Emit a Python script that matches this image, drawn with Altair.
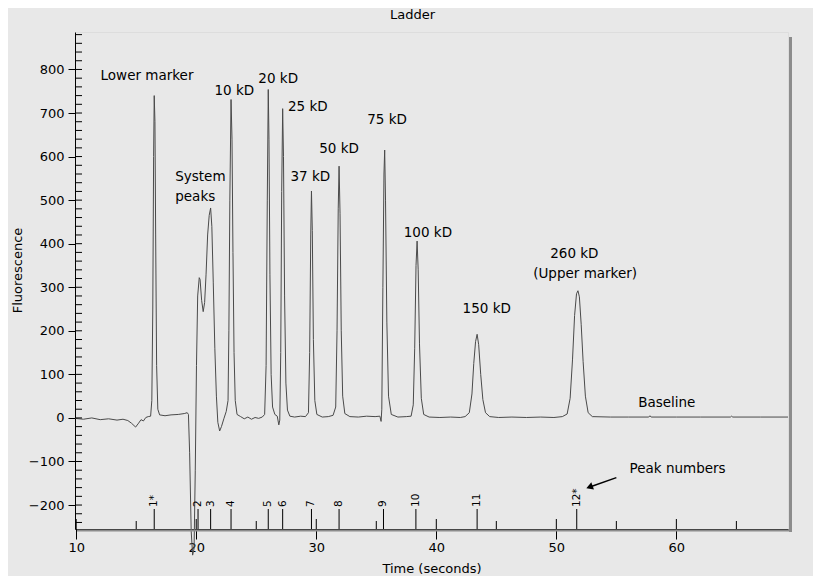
import altair as alt
import pandas as pd

# ---- Electropherogram trace (time in s, fluorescence) ----
trace_time = [
    9.9, 10.6, 11.3, 12.0, 12.7, 13.4, 13.9, 14.3, 14.6, 14.95, 15.2, 15.4, 15.6, 15.8,
    16.0, 16.2, 16.3, 16.38, 16.45, 16.5, 16.56, 16.62, 16.7, 16.8, 16.95, 17.4, 17.9,
    18.5, 19.0, 19.25, 19.35, 19.45, 19.58, 19.7, 19.82, 19.92, 20.02, 20.12, 20.25,
    20.32, 20.45, 20.58, 20.7, 20.82, 20.95, 21.08, 21.2, 21.3, 21.42, 21.55, 21.68,
    21.8, 21.95, 22.1, 22.3, 22.5, 22.65, 22.72, 22.8, 22.9, 22.98, 23.06, 23.15, 23.25,
    23.4, 23.7, 24.0, 24.3, 24.6, 24.9, 25.2, 25.5, 25.7, 25.82, 25.92, 26.0, 26.06,
    26.14, 26.24, 26.36, 26.55, 26.75, 26.88, 26.96, 27.04, 27.12, 27.2, 27.27, 27.36,
    27.47, 27.6, 27.8, 28.2, 28.7, 29.1, 29.35, 29.45, 29.54, 29.6, 29.67, 29.76, 29.88,
    30.05, 30.5, 31.0, 31.4, 31.62, 31.73, 31.83, 31.9, 31.98, 32.08, 32.2, 32.38, 32.8,
    33.5, 34.2, 34.9, 35.3, 35.4, 35.46, 35.55, 35.64, 35.7, 35.77, 35.88, 36.02, 36.25,
    36.8, 37.5, 37.9, 38.08, 38.2, 38.31, 38.4, 38.49, 38.6, 38.75, 38.95, 39.4, 40.3,
    41.2, 42.0, 42.4, 42.75, 42.97, 43.12, 43.27, 43.4, 43.53, 43.7, 43.88, 44.1, 44.45,
    45.2, 46.3, 47.5, 48.7, 49.8, 50.5, 50.9, 51.15, 51.35, 51.52, 51.68, 51.8, 51.92,
    52.07, 52.23, 52.42, 52.65, 53.0, 54.5, 56.0, 57.7, 57.8, 57.9, 60.0, 62.0, 64.5,
    64.6, 64.7, 67.0, 69.3,
]
trace_fluor = [
    -1, -3, 0, -4, -2, -5, -3, -6, -12, -21, -12, -4, -7, 1,
    3, 4, 40, 250, 600, 740, 680, 420, 120, 20, 7, 5, 7,
    8, 10, 12, 8, -80, -260, -315, -300, -120, 120, 280, 322,
    318, 270, 244, 265, 330, 420, 465, 482, 440, 310, 160, 50,
    -10, -30, -20, -2, 15, 40, 200, 500, 731, 640, 380, 150, 40,
    8, 3, -2, 2, -3, 1, -1, 2, 8, 120, 500, 754, 640,
    330, 100, 25, 8, 4, -16, -5, 150, 520, 710, 600, 280,
    80, 18, 4, 2, 4, 3, 12, 150, 420, 521, 430, 180, 40,
    8, 2, 3, 6, 25, 200, 480, 578, 470, 200, 50, 10, 3,
    2, 4, 3, 4, -8, 20, 300, 560, 615, 500, 220, 50, 8,
    2, 3, 4, 30, 160, 350, 406, 340, 170, 45, 8, 2, 1,
    2, 1, 3, 12, 55, 125, 175, 192, 168, 100, 42, 12, 3,
    1, 2, 1, 2, 1, 3, 9, 45, 135, 235, 285, 292, 278,
    215, 130, 50, 12, 3, 2, 2, 2, 5, 2, 2, 2, 2,
    4, 2, 2, 2,
]

# ---- Annotations ----
label_text = ["Lower marker", "10 kD", "20 kD", "25 kD", "37 kD", "50 kD", "75 kD",
              "100 kD", "150 kD", "260 kD", "(Upper marker)", "Baseline", "Peak numbers"]
label_time = [15.9, 23.17, 26.83, 29.3, 29.5, 31.9, 35.9, 39.3, 44.2, 51.5, 52.4, 59.2, 60.1]
label_fluor = [786, 751, 778, 713, 552, 618, 683, 425, 249, 376, 330, 35, -118]

system_text = ["System", "peaks"]
system_time = [18.25, 18.25]
system_fluor = [553, 508]

# ---- Peak numbers ----
peak_name = ["1*", "2", "3", "4", "5", "6", "7", "8", "9", "10", "11", "12*"]
peak_time = [16.5, 20.15, 21.2, 22.9, 26.0, 27.2, 29.6, 31.9, 35.6, 38.3, 43.4, 51.7]

# ---- Arrow (start -> head) ----
arrow_time = [55.0, 52.85]
arrow_fluor = [-137, -158]

# ---- Axis ticks ----
x_major = [10, 20, 30, 40, 50, 60]
x_minor = [15, 25, 35, 45, 55, 65]
y_major = [-200, -100, 0, 100, 200, 300, 400, 500, 600, 700, 800]
y_minor = [v for v in range(-240, 881, 20) if v % 100 != 0]

W, H = 713, 497
FONT = "DejaVu Sans"
xs = alt.Scale(domain=[9.9, 69.3], nice=False, zero=False)
ys = alt.Scale(domain=[-255, 886], nice=False, zero=False)

trace_df = pd.DataFrame({"t": trace_time, "f": trace_fluor})

line = alt.Chart(trace_df).mark_line(color="#4a4a4a", strokeWidth=1).encode(
    x=alt.X("t:Q", scale=xs, axis=alt.Axis(
        values=x_major, title="Time (seconds)", format="d", grid=False,
        domainColor="black", tickColor="black", tickSize=10, labelPadding=2,
        labelFont=FONT, labelFontSize=13, labelColor="black", labelFlush=False,
        titleFont=FONT, titleFontSize=13, titleFontWeight="normal", titleColor="black",
        titlePadding=8)),
    y=alt.Y("f:Q", scale=ys, axis=alt.Axis(
        values=y_major, title="Fluorescence", format="d", grid=False,
        domainColor="black", tickColor="black", tickSize=7, labelPadding=4,
        labelFont=FONT, labelFontSize=13, labelColor="black", labelFlush=False,
        titleFont=FONT, titleFontSize=13, titleFontWeight="normal", titleColor="black",
        titlePadding=4, titleY=238)),
)


def X(field):
    return alt.X(field, type="quantitative", scale=xs)


def Y(field):
    return alt.Y(field, type="quantitative", scale=ys)


one = pd.DataFrame({"a": [0]})
shadow_r = alt.Chart(one).mark_rule(color="#8c8c8c", strokeWidth=3).encode(
    x=alt.value(W + 2.5), y=alt.value(5), y2=alt.value(H + 3))
shadow_b = alt.Chart(one).mark_rule(color="#8c8c8c", strokeWidth=2).encode(
    x=alt.value(2), x2=alt.value(W + 4), y=alt.value(H + 1.5))

xmaj = alt.Chart(pd.DataFrame({"t": x_major})).mark_rule(color="black").encode(
    x=X("t"), y=alt.value(H), y2=alt.value(H - 10))
xmin = alt.Chart(pd.DataFrame({"t": x_minor})).mark_rule(color="black").encode(
    x=X("t"), y=alt.value(H), y2=alt.value(H - 8))
ymaj = alt.Chart(pd.DataFrame({"f": y_major})).mark_rule(color="black").encode(
    y=Y("f"), x=alt.value(0), x2=alt.value(7))
ymin = alt.Chart(pd.DataFrame({"f": y_minor})).mark_rule(color="black").encode(
    y=Y("f"), x=alt.value(0), x2=alt.value(7))

pk_df = pd.DataFrame({"t": peak_time, "n": peak_name})
pk_rule = alt.Chart(pk_df).mark_rule(color="black").encode(
    x=X("t"), y=alt.value(H), y2=alt.value(H - 20))
pk_text = alt.Chart(pk_df).mark_text(
    angle=270, align="left", baseline="middle", font=FONT, fontSize=10.5, color="black"
).encode(x=X("t"), y=alt.value(H - 22), text="n:N")

ann = alt.Chart(pd.DataFrame({"t": label_time, "f": label_fluor, "s": label_text})).mark_text(
    align="center", baseline="middle", font=FONT, fontSize=13.5, color="black"
).encode(x=X("t"), y=Y("f"), text="s:N")

sysl = alt.Chart(pd.DataFrame({"t": system_time, "f": system_fluor, "s": system_text})).mark_text(
    align="left", baseline="middle", font=FONT, fontSize=13.5, color="black"
).encode(x=X("t"), y=Y("f"), text="s:N")

arr_df = pd.DataFrame({"t": [arrow_time[0]], "f": [arrow_fluor[0]],
                       "t2": [arrow_time[1]], "f2": [arrow_fluor[1]]})
arrow_line = alt.Chart(arr_df).mark_rule(color="black", strokeWidth=1.5).encode(
    x=X("t"), y=Y("f"), x2="t2:Q", y2="f2:Q")
arrow_head = alt.Chart(arr_df).mark_point(
    shape="triangle", filled=True, size=60, angle=250, color="black", opacity=1
).encode(x=X("t2"), y=Y("f2"))

chart = alt.layer(
    line, shadow_r, shadow_b, xmaj, xmin, ymaj, ymin, pk_rule, pk_text,
    ann, sysl, arrow_line, arrow_head
).properties(
    width=W, height=H,
    title=alt.TitleParams("Ladder", font=FONT, fontSize=13, fontWeight="normal",
                          color="black", offset=10, dx=-19, anchor="middle", frame="group"),
    padding={"left": 67, "top": 24, "right": 25, "bottom": 47},
    autosize=alt.AutoSizeParams(type="none"),
).configure_view(stroke="black", strokeWidth=1, fill="white").configure(background="#e8e8e8")

chart.save("out.html", embed_options={"renderer": "svg", "actions": False})
